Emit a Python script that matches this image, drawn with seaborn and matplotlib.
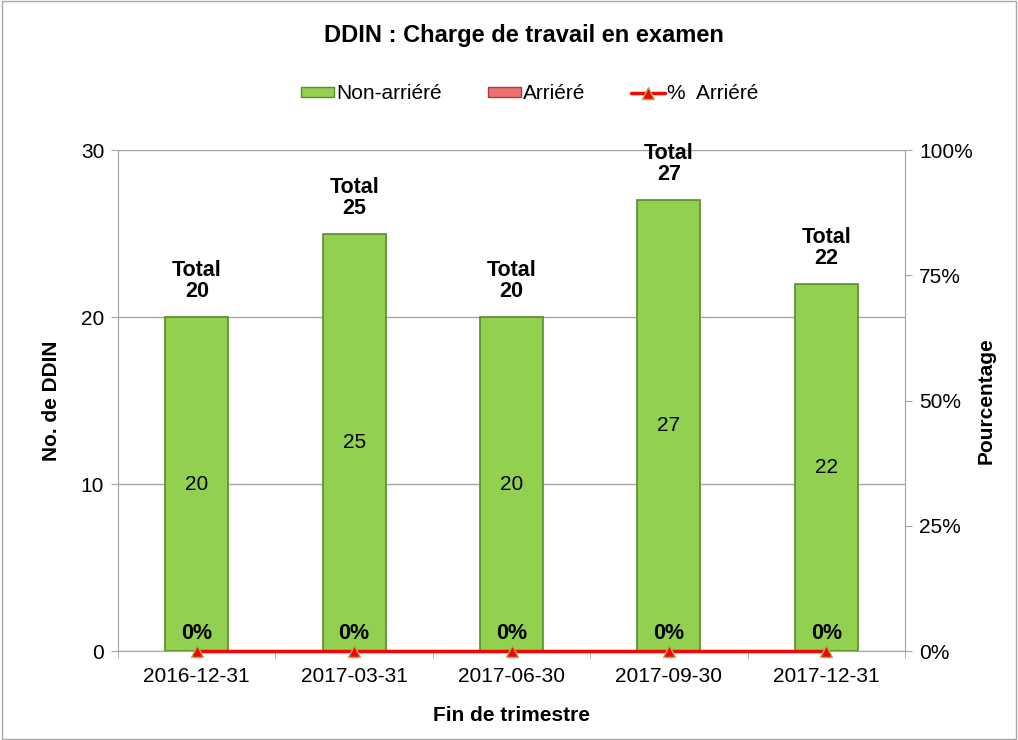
import seaborn as sns
import matplotlib.pyplot as plt
import matplotlib.patches as mpatches
import matplotlib.lines as mlines
import numpy as np
import pandas as pd

# data
quarters = ["2016-12-31", "2017-03-31", "2017-06-30", "2017-09-30", "2017-12-31"]
non_arriere = [20, 25, 20, 27, 22]
arriere = [0, 0, 0, 0, 0]
pct_arriere = [0, 0, 0, 0, 0]

df = pd.DataFrame({"quarter": quarters, "non": non_arriere, "arr": arriere, "pct": pct_arriere})
df["total"] = df["non"] + df["arr"]

sns.set_style("white")
plt.rcParams["font.family"] = ["Liberation Sans", "DejaVu Sans"]
plt.rcParams["text.color"] = "black"
plt.rcParams["axes.labelcolor"] = "black"
plt.rcParams["xtick.color"] = "black"
plt.rcParams["ytick.color"] = "black"

fig = plt.figure(figsize=(10.18, 7.4), dpi=100)
ax = fig.add_axes([0.116, 0.12, 0.773, 0.677])

green = "#92D050"
green_edge = "#5B8C2A"
red = "#F07070"

sns.barplot(data=df, x="quarter", y="non", color=green, width=0.4,
            edgecolor=green_edge, linewidth=1.2, saturation=1, ax=ax, zorder=3)
ax.bar(np.arange(len(quarters)), df["arr"], bottom=df["non"], width=0.4,
       color=red, linewidth=0, zorder=3)

ax.set_ylim(0, 30)
ax.set_xlim(-0.5, len(quarters) - 0.5)
ax.set_yticks([0, 10, 20, 30])
ax.yaxis.grid(True, color="#A6A6A6", linewidth=1)
ax.set_axisbelow(True)
for s in ["left", "bottom", "right", "top"]:
    ax.spines[s].set_color("#A6A6A6")
ax.spines["top"].set_visible(False)
ax.tick_params(axis="y", labelsize=15, left=True, length=5, color="#A6A6A6", labelcolor="black", pad=5)
ax.tick_params(axis="x", labelsize=15, bottom=False, labelcolor="black", pad=8)
ax.set_xticks(np.arange(-0.5, len(quarters)), minor=True)
ax.tick_params(axis="x", which="minor", bottom=True, length=5, color="#A6A6A6")
ax.set_xlabel("Fin de trimestre", fontsize=15, fontweight="bold", labelpad=14)
ax.set_ylabel("No. de DDIN", fontsize=15, fontweight="bold", labelpad=14)

for i, row in df.iterrows():
    ax.text(i, row["total"] + 0.9, f"Total\n{row['total']}", ha="center", va="bottom",
            fontsize=15.5, fontweight="bold", linespacing=1.0, zorder=5)
    ax.text(i, row["non"] / 2, f"{row['non']}", ha="center", va="center", fontsize=15, zorder=5)

ax2 = ax.twinx()
sns.lineplot(x=np.arange(len(quarters)), y=df["pct"], color="#FF0000", linewidth=2.5,
             marker="^", markersize=9, markerfacecolor="#FF0000", markeredgecolor="#9BBB59",
             markeredgewidth=1, ax=ax2, zorder=6, clip_on=False)
ax2.set_ylim(0, 1)
ax2.set_yticks([0, 0.25, 0.5, 0.75, 1.0])
ax2.set_yticklabels(["0%", "25%", "50%", "75%", "100%"])
ax2.tick_params(axis="y", labelsize=15, right=True, length=5, color="#A6A6A6", labelcolor="black", pad=5)
ax2.set_ylabel("Pourcentage", fontsize=15, fontweight="bold", labelpad=3)
ax2.set_xlim(-0.5, len(quarters) - 0.5)
for s in ["left", "bottom", "right", "top"]:
    ax2.spines[s].set_color("#A6A6A6")
ax2.spines["top"].set_visible(False)

for i, p in enumerate(pct_arriere):
    ax2.text(i, p + 0.015, f"{p:.0%}", ha="center", va="bottom",
             fontsize=15.5, fontweight="bold", zorder=7)

fig.suptitle("DDIN : Charge de travail en examen", x=0.515, y=0.968,
             fontsize=17, fontweight="bold")

handles = [
    mpatches.Patch(facecolor=green, edgecolor=green_edge, label="Non-arriéré"),
    mpatches.Patch(facecolor=red, edgecolor="#A04040", label="Arriéré"),
    mlines.Line2D([], [], color="#FF0000", linewidth=2.5, marker="^", markersize=8,
                  markerfacecolor="#FF0000", markeredgecolor="#9BBB59", label="%  Arriéré"),
]
fig.legend(handles=handles, loc="center", bbox_to_anchor=(0.52, 0.873), ncol=3,
           frameon=False, fontsize=15, handlelength=1.6, handleheight=0.4,
           handletextpad=0.1, columnspacing=2.2)

fig.patches.append(mpatches.Rectangle((0.002, 0.002), 0.996, 0.996, transform=fig.transFigure,
                                      fill=False, edgecolor="#A6A6A6", linewidth=1))

fig.savefig("out.png", dpi=100)
